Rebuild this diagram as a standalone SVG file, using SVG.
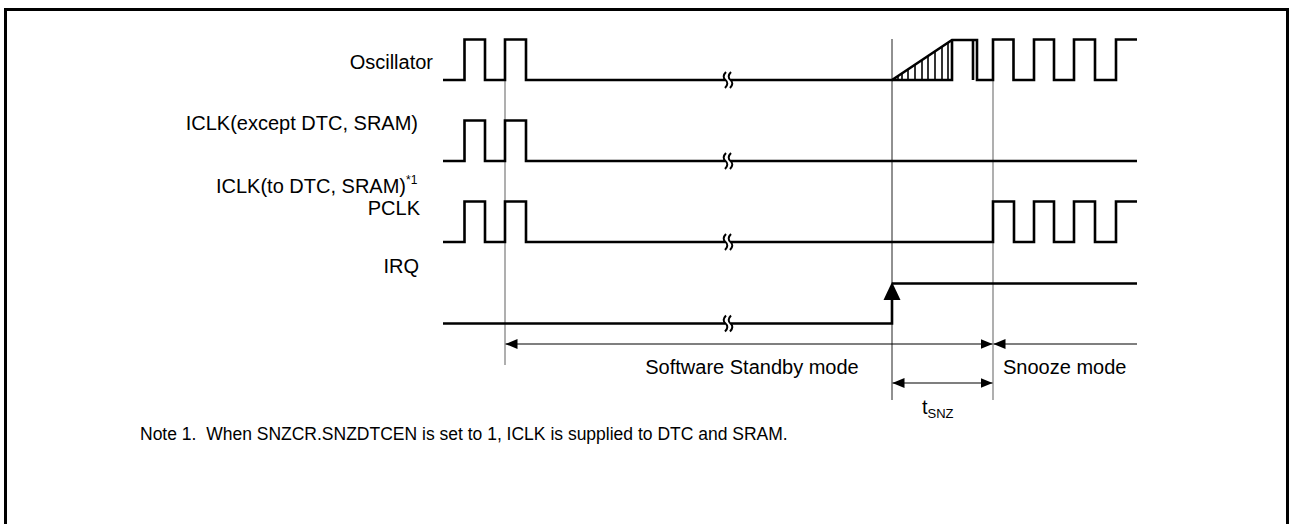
<svg xmlns="http://www.w3.org/2000/svg" width="1289" height="524" viewBox="0 0 1289 524">
<style>
text{font-family:"Liberation Sans",Arial,sans-serif;font-size:20px;fill:#000}
.note{font-size:17.5px;white-space:pre}
.sig{fill:none;stroke:#000;stroke-width:2.6;stroke-linejoin:miter;stroke-linecap:butt}
.hat{stroke:#000;stroke-width:1.6}
.guide{stroke:#7a7a7a;stroke-width:1.2}
.guide2{stroke:#222;stroke-width:1}
.dim{stroke:#000;stroke-width:1.2;fill:none}
.brk{fill:none;stroke:#000;stroke-width:2}
</style>
<defs>
<marker id="ah" viewBox="0 0 12 10" refX="12" refY="5" markerWidth="12" markerHeight="10" markerUnits="userSpaceOnUse" orient="auto-start-reverse"><path d="M0,0 L12,5 L0,10 Z" fill="#000"/></marker>
<g id="brkmark"><rect x="-3" y="-7" width="6" height="14" fill="#fff"/><path class="brk" d="M-2,-8 C-5,-5 -5,-2 -2.5,0 C0,2 0,5 -3,8"/><path class="brk" d="M3,-8 C0,-5 0,-2 2.5,0 C5,2 5,5 2,8"/></g>
</defs>
<rect x="5.5" y="9.5" width="1282" height="600" fill="#fff" stroke="#000" stroke-width="3"/>
<g id="guides">
<line class="guide" x1="505" y1="80" x2="505" y2="365"/>
<line class="guide2" x1="892" y1="39" x2="892" y2="400"/>
<line class="guide" x1="993" y1="39" x2="993" y2="400"/>
</g>
<g id="oscillator">
<text x="433" y="69" text-anchor="end">Oscillator</text>
<path class="sig" d="M443,80 H464.5 V39.5 H485 V80 H505 V39.5 H526 V80 H892 L952,40 H977 V80 H993 V39.5 H1013.5 V80 H1034 V39.5 H1054 V80 H1074 V39.5 H1095 V80 H1116 V39.5 H1137"/>
<path class="sig" d="M892,80 H952 V40 M973,40 V80"/>
<g class="hat">
<line x1="898" y1="80" x2="898" y2="76"/>
<line x1="902" y1="80" x2="902" y2="73.3"/>
<line x1="908" y1="80" x2="908" y2="69.3"/>
<line x1="915" y1="80" x2="915" y2="64.7"/>
<line x1="922" y1="80" x2="922" y2="60"/>
<line x1="928" y1="80" x2="928" y2="56"/>
<line x1="935" y1="80" x2="935" y2="51.3"/>
<line x1="942" y1="80" x2="942" y2="46.7"/>
<line x1="948" y1="80" x2="948" y2="42.7"/>
</g>
<use href="#brkmark" x="728" y="80"/>
</g>
<g id="iclk-except">
<text x="418" y="130" text-anchor="end">ICLK(except DTC, SRAM)</text>
<path class="sig" d="M443,161 H464.5 V120.5 H485 V161 H505 V120.5 H526 V161 H1137"/>
<use href="#brkmark" x="728" y="161"/>
</g>
<g id="iclk-dtc">
<text x="406" y="193" text-anchor="end">ICLK(to DTC, SRAM)</text>
<text x="406" y="184" style="font-size:12px">*1</text>
<text x="420" y="215" text-anchor="end">PCLK</text>
<path class="sig" d="M443,242 H464.5 V201.5 H485 V242 H505 V201.5 H526 V242 H993 V201.5 H1014 V242 H1034 V201.5 H1054 V242 H1074 V201.5 H1095 V242 H1116 V201.5 H1137"/>
<use href="#brkmark" x="728" y="242"/>
</g>
<g id="irq">
<text x="419" y="273" text-anchor="end">IRQ</text>
<path class="sig" d="M443,323.5 H892 V295 M892,283.5 H1137"/>
<path d="M892,282 L883.5,300 L900.5,300 Z" fill="#000"/>
<use href="#brkmark" x="728" y="323.5"/>
</g>
<g id="connectors">
<line class="dim" x1="505.5" y1="344" x2="992.5" y2="344" marker-start="url(#ah)" marker-end="url(#ah)"/>
<line class="dim" x1="993.5" y1="344" x2="1137" y2="344" marker-start="url(#ah)"/>
<line class="dim" x1="892.5" y1="383" x2="992.5" y2="383" marker-start="url(#ah)" marker-end="url(#ah)"/>
</g>
<g id="labels">
<text x="752" y="374" text-anchor="middle">Software Standby mode</text>
<text x="1003" y="374">Snooze mode</text>
<text x="922" y="414">t<tspan style="font-size:13px" dy="4">SNZ</tspan></text>
<text class="note" x="140" y="440" xml:space="preserve">Note 1.  When SNZCR.SNZDTCEN is set to 1, ICLK is supplied to DTC and SRAM.</text>
</g>
</svg>
